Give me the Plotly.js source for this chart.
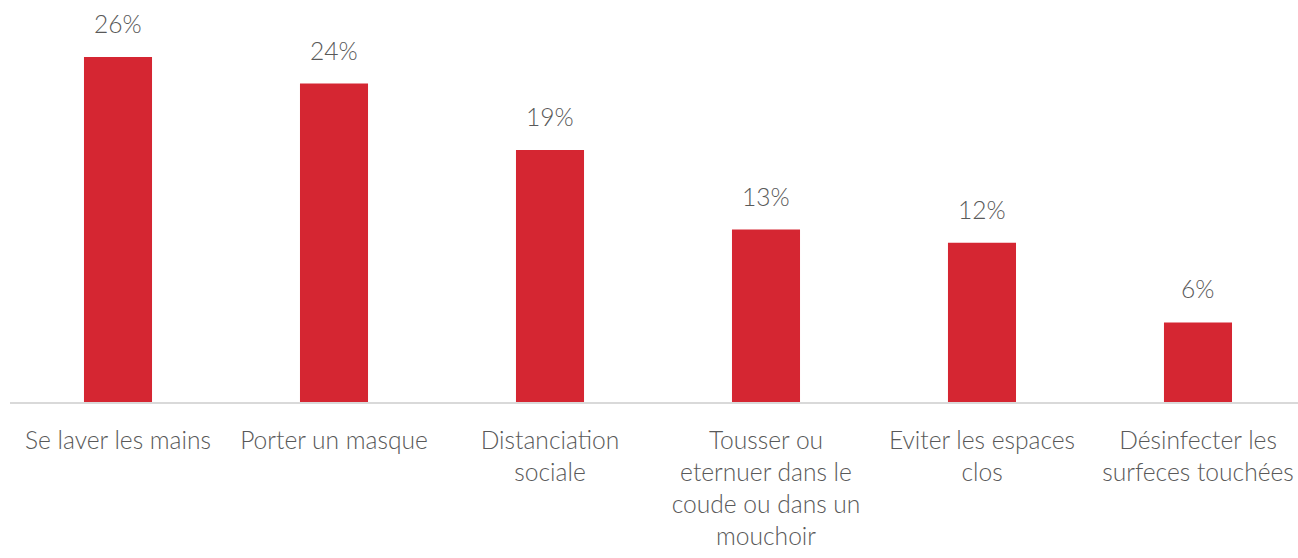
<!DOCTYPE html>
<html>
<head>
<meta charset="utf-8">
<script src="https://cdn.plot.ly/plotly-3.0.1.min.js"></script>
<style>html,body{margin:0;padding:0;background:#fff;}#chart{width:1298px;height:558px;}</style>
</head>
<body>
<div id="chart"></div>
<script>
const categories = [
  "Se laver les mains",
  "Porter un masque",
  "Distanciation<br>sociale",
  "Tousser ou<br>eternuer dans le<br>coude ou dans un<br>mouchoir",
  "Eviter les espaces<br>clos",
  "Désinfecter les<br>surfeces touchées"
];
const values = [26, 24, 19, 13, 12, 6];
const labels = values.map(v => v + "%");

const FONT = "Lato, 'Open Sans', sans-serif";
const TXT = "#595959";

const trace = {
  type: "bar",
  x: categories,
  y: values,
  marker: {color: "#D52632"},
  width: 0.315,
  hoverinfo: "skip"
};

const annotations = categories.map((c, i) => ({
  x: c, y: values[i], text: labels[i],
  xref: "x", yref: "y", yanchor: "bottom", showarrow: false,
  yshift: 17,
  font: {family: FONT, size: 24.6, color: TXT, weight: 300}
}));

const layout = {
  width: 1298, height: 558,
  margin: {l: 10, r: 0, t: 0, b: 156},
  paper_bgcolor: "#fff", plot_bgcolor: "#fff",
  showlegend: false,
  xaxis: {
    type: "category",
    range: [-0.5, 5.463],
    showline: true, linecolor: "#D9D9D9", linewidth: 1.5,
    ticks: "", showgrid: false, zeroline: false,
    tickfont: {family: FONT, size: 24.6, color: TXT, weight: 300},
    ticklabelstandoff: 16,
    tickangle: 0
  },
  yaxis: {
    range: [0, 30.3],
    visible: false, showgrid: false, zeroline: false
  },
  annotations: annotations
};

Plotly.newPlot("chart", [trace], layout, {displayModeBar: false, staticPlot: true});
</script>
</body>
</html>
